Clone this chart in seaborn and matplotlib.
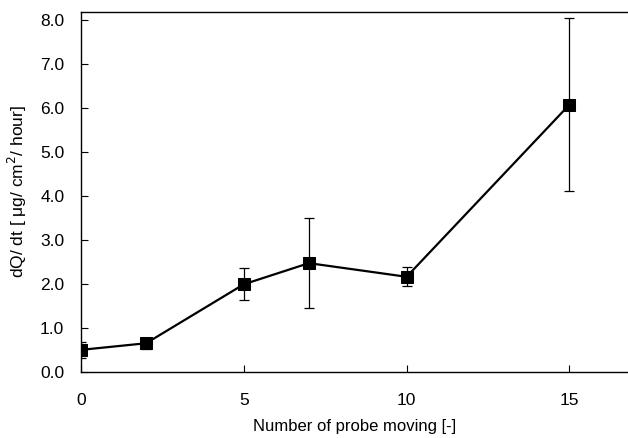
import matplotlib
matplotlib.use("Agg")
import matplotlib.pyplot as plt
import pandas as pd
import seaborn as sns

probe_moves = [0, 2, 5, 7, 10, 15]
flux_mean = [0.50, 0.65, 1.99, 2.47, 2.16, 6.07]
flux_sd = [0.18, 0.13, 0.36, 1.02, 0.22, 1.97]

x_ticks = [0, 5, 10, 15]
y_ticks = [0.0, 1.0, 2.0, 3.0, 4.0, 5.0, 6.0, 7.0, 8.0]

sns.set_theme(style="ticks", rc={
    "text.color": "black",
    "axes.labelcolor": "black",
    "xtick.color": "black",
    "ytick.color": "black",
    "axes.edgecolor": "black",
})
plt.rcParams["font.family"] = ["Liberation Sans", "DejaVu Sans"]

data = pd.DataFrame({"moves": probe_moves, "flux": flux_mean, "sd": flux_sd})

fig = plt.figure(figsize=(6.28, 4.38), dpi=100)
ax = fig.add_axes([0.129, 0.151, 0.871, 0.822])

ax.errorbar(
    data["moves"], data["flux"], yerr=data["sd"],
    fmt="none", ecolor="black", elinewidth=0.9, capsize=3.5, capthick=0.9, zorder=2,
)
sns.lineplot(
    data=data, x="moves", y="flux", ax=ax,
    color="black", linewidth=1.6, marker="s", markersize=9,
    markeredgecolor="black", markerfacecolor="black", zorder=3,
)

ax.set_xlim(0, 16.8)
ax.set_ylim(0, 8.18)
ax.set_xticks(x_ticks)
ax.set_yticks(y_ticks)
ax.set_yticklabels([f"{v:.1f}" for v in y_ticks])
ax.tick_params(direction="in", length=5, width=0.8, labelsize=12.5)
ax.tick_params(axis="x", pad=15)
ax.tick_params(axis="y", pad=12)

ax.spines["right"].set_visible(False)
for side in ("left", "bottom", "top"):
    ax.spines[side].set_linewidth(1.0)

ax.set_xlabel("Number of probe moving [-]", fontsize=12, labelpad=8)
ax.set_ylabel("dQ/ dt [ μg/ cm$^2$/ hour]", fontsize=12.5, labelpad=8)

fig.savefig("out.png", dpi=100)
